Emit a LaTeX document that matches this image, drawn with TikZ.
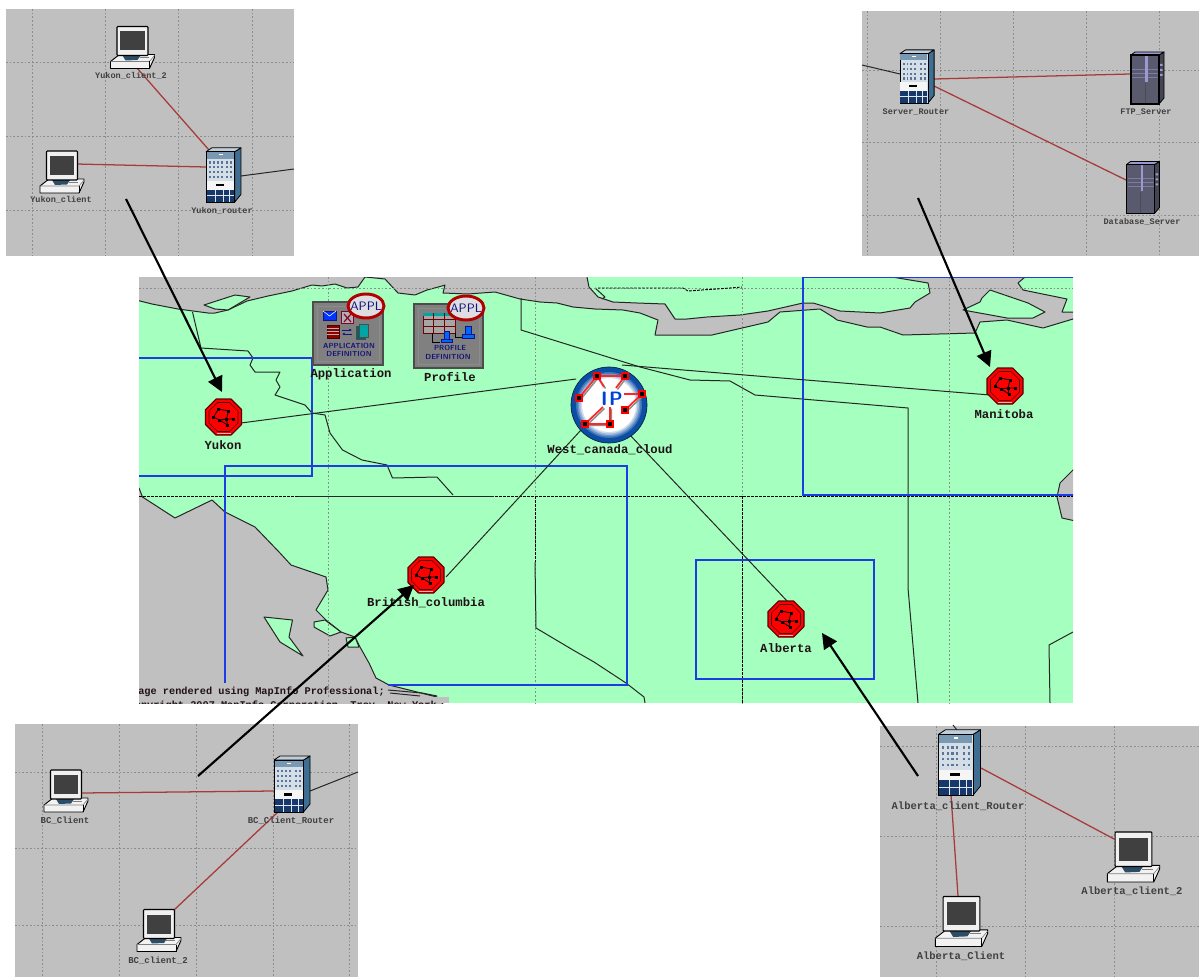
\documentclass[tikz,border=0pt]{standalone}
\usepackage{fontspec}
\setmainfont{Liberation Sans}
\setmonofont{Liberation Mono}
\usetikzlibrary{arrows.meta}
\definecolor{mapgreen}{HTML}{A5FFBE}
\definecolor{mapgray}{HTML}{C0C0C0}
\definecolor{griddot}{HTML}{8C8C8C}
\definecolor{linkred}{HTML}{A83A3A}
\definecolor{boxblue}{HTML}{1E3CE6}
\definecolor{navy}{HTML}{14147A}
\definecolor{appred}{HTML}{B00000}
\definecolor{cloudblue}{HTML}{0B4FA5}
\definecolor{rackblue}{HTML}{16386A}
\definecolor{rackside}{HTML}{3F6E92}
\definecolor{rackfront}{HTML}{D4DEE6}
\definecolor{srv}{HTML}{5A5A6E}
\definecolor{srvlight}{HTML}{9A9AD0}
\definecolor{labelink}{HTML}{201018}
\tikzset{
  box/.style 2 args={minimum width=#1*0.75pt,minimum height=#2*0.75pt,inner sep=0pt,outer sep=0pt},
  panelbg/.style={fill=mapgray,draw=none},
  griddots/.style={draw=griddot,line width=0.5pt,dash pattern=on 1.3pt off 1.5pt},
  redlink/.style={draw=linkred,line width=0.95pt},
  blacklink/.style={draw=black!85,line width=0.75pt},
  wanlink/.style={draw=black!85,line width=0.75pt},
  callout/.style={draw=black,line width=1.6pt,-{Triangle[length=11.5pt,width=11.5pt]}},
  coast/.style={draw=black!85,line width=0.75pt,line join=round},
  region/.style={draw=boxblue,line width=0.85pt},
  plabelA/.style={inner sep=0pt,font=\ttfamily\bfseries\fontsize{6.4}{7}\selectfont,text=black!75},
  plabelB/.style={inner sep=0pt,font=\ttfamily\bfseries\fontsize{6.75}{7}\selectfont,text=black!75},
  plabelC/.style={inner sep=0pt,font=\ttfamily\bfseries\fontsize{7.9}{8}\selectfont,text=black!75},
  mlabel/.style={inner sep=0pt,font=\ttfamily\bfseries\fontsize{9.2}{10}\selectfont,text=labelink},
  foot/.style={inner sep=0pt,anchor=base east,font=\ttfamily\bfseries\fontsize{7.7}{8}\selectfont,text=labelink},
  applt/.style={inner sep=0pt,font=\sffamily\fontsize{9.2}{10}\selectfont,text=navy},
  deft/.style={inner sep=0pt,font=\sffamily\bfseries\fontsize{5.5}{6}\selectfont,text=navy},
  pcicon/.pic={
    \filldraw[fill=white!90!gray,draw=black,line width=0.7pt,line join=round] (-13,7) -- (22,7) -- (22,10) -- (17,21) -- (-22,21) -- (-22,14) -- cycle;
    \draw[draw=gray,line width=0.5pt] (-22,14) -- (17,14) -- (22,8);
    \draw[draw=black,line width=0.6pt] (17,14) -- (17,21);
    \fill[fill=rackside!70!black] (-10,8) -- (8,8) -- (5,12.5) -- (-7,13) -- cycle;
    \draw[draw=gray,line width=0.4pt] (7,10) -- (16,10);
    \filldraw[fill=white!88!gray,draw=black,line width=0.8pt,rounded corners=0.6pt] (-15.5,-21) rectangle (15.5,8);
    \fill[fill=black!75] (-12.5,-16) rectangle (12,3);
  },
  routericon/.pic={
    \filldraw[fill=rackside,draw=black,line width=0.6pt,line join=round] (11.5,-24) -- (18,-28) -- (18,20) -- (11.5,28) -- cycle;
    \filldraw[fill=rackfront!85!rackside,draw=black,line width=0.6pt,line join=round] (-18,-24) -- (-12,-28) -- (18,-28) -- (11.5,-24) -- cycle;
    \filldraw[fill=rackfront,draw=black,line width=0.6pt] (-18,-24) rectangle (11.5,28);
    \fill[fill=rackside!70] (-17.5,-23.5) rectangle (11,-17);
    \fill[fill=white] (-5,-21.5) rectangle (-1,-20.5);
    \foreach \cx in {-15,-11,-7,-3,3,7} \foreach \cy in {-14,-9,-4,1}
      \fill[fill=rackblue!70] (\cx,\cy) rectangle +(2,2.2);
    \fill[fill=white!92!gray] (-17.5,6) rectangle (11,15);
    \fill[fill=black] (-8,9) rectangle (0,11.5);
    \fill[fill=rackblue] (-17.5,15) rectangle (11,27.5);
    \draw[draw=rackfront!70,line width=0.35pt] (-17.5,21) -- (11,21) (-9,15) -- (-9,27.5) (-0.5,15) -- (-0.5,27.5) (6,15) -- (6,27.5);
  },
  servericon/.pic={
    \filldraw[fill=srv!75!black,draw=black,line width=0.6pt,line join=round] (12,-23) -- (17,-26) -- (17,20) -- (12,26) -- cycle;
    \filldraw[fill=srvlight,draw=black,line width=0.6pt,line join=round] (-16,-23) -- (-12,-26) -- (17,-26) -- (12,-23) -- cycle;
    \filldraw[fill=srv,draw=black,line width=0.9pt] (-16,-23) rectangle (12,26);
    \fill[fill=srvlight] (-2,-22) rectangle (0.5,4);
    \draw[draw=srvlight!80!black,line width=0.4pt] (-15,-9) -- (-2,-9) (-15,-5) -- (-2,-5) (-15,-1) -- (-2,-1) (0.5,-9) -- (11,-9) (0.5,-5) -- (11,-5) (0.5,-1) -- (11,-1);
    \draw[draw=black!70,line width=0.35pt] (-2,5) -- (-2,25);
    \fill[fill=srvlight] (13,-14) rectangle (15.5,-12) (13,-9) rectangle (15.5,-7) (13,-4) rectangle (15.5,-2);
  },
  subneticon/.pic={
    \filldraw[fill=red,draw=black!65!red,line width=0.8pt,line join=round]
      (18,7.5) -- (7.5,18) -- (-7.5,18) -- (-18,7.5) -- (-18,-7.5) -- (-7.5,-18) -- (7.5,-18) -- (18,-7.5) -- cycle;
    \draw[draw=black!70!red,line width=0.45pt,line join=round]
      (14.5,6) -- (6,14.5) -- (-6,14.5) -- (-14.5,6) -- (-14.5,-6) -- (-6,-14.5) -- (6,-14.5) -- (14.5,-6) -- cycle;
    \draw[draw=white!70!red,line width=0.4pt] (-7,16) -- (7,16);
    \draw[draw=black,line width=0.6pt,line join=round] (-5,-8) -- (5,-6) -- (3,2) -- (4,8) -- (-4,3) -- (-10,0) -- cycle (-4,3) -- (3,2) -- (10,2);
    \foreach \px/\py in {-5/-8,5/-6,-10/0,-4/3,3/2,10/2,4/8}
      \fill[fill=black] (\px-1.5,\py-1.5) rectangle (\px+1.5,\py+1.5);
  },
  cloudicon/.pic={
    \fill[fill=cloudblue] (0,0) circle[radius=38];
    \draw[draw=black!60!cloudblue,line width=0.5pt] (0,0) circle[radius=38];
    \fill[fill=cloudblue!80!white] (0,0) circle[radius=33];
    \fill[fill=cloudblue!60!white] (0,0) circle[radius=31.5];
    \fill[fill=cloudblue!40!white] (0,0) circle[radius=30];
    \fill[fill=cloudblue!20!white] (0,0) circle[radius=28.5];
    \fill[fill=white] (0,0) circle[radius=27];
    \draw[draw=black!45,line width=1.1pt,shift={(1.5,1.5)}] (-12,-29) -- (-30,-7) (16,-29) -- (7,-17) (-12,-29) -- (-5,-18) (33,-11) -- (16,5) (-24,19) -- (-6,2) (1,19) -- (1,2) (-24,19) -- (1,19);
    \draw[draw=red!85!white,line width=1.3pt] (-12,-29) -- (16,-29) (-12,-29) -- (-30,-7) (16,-29) -- (7,-17) (-12,-29) -- (-5,-18) (33,-11) -- (15,-11) (33,-11) -- (16,5) (-24,19) -- (1,19) (-24,19) -- (-6,2) (1,19) -- (1,2);
    \foreach \px/\py in {-12/-29,16/-29,-30/-7,33/-11,16/5,-24/19,1/19} {
      \fill[fill=red] (\px-4,\py-4) rectangle (\px+4,\py+4);
      \fill[fill=black] (\px-1.8,\py-1.8) rectangle (\px+1.8,\py+1.8);
    }
  },
}
\newcommand{\joinlink}[5][redlink]{\draw[#1] ([shift={(#3)}]#2.center) -- ([shift={(#5)}]#4.center);}
\begin{document}
\begin{tikzpicture}[x=0.75pt,y=-0.75pt]
\path[use as bounding box] (0,0) rectangle (1199,977);

% ---------- central map ----------
\node[box={934}{426},fill=mapgreen] (mapbg) at (606,490) {};
\begin{scope}
\clip (139,277) rectangle (1073,703);
\filldraw[fill=mapgray,coast]
 (139,270) -- (587,270) -- (587,277) -- (589,287) -- (598,297) -- (613,302) -- (637,303) -- (665,304) -- (675,319) -- (687,319) -- (707,317) -- (740,315) -- (768,311) -- (803,303) -- (813,303) -- (840,311) -- (880,313) -- (910,308) -- (915,302) -- (930,293) -- (928,283) -- (892,277) -- (1025,277) -- (1018,283) -- (1023,290) -- (1067,299) -- (1062,312) -- (1080,312) -- (1080,317) -- (1073,319) -- (1043,328) -- (1007,320) -- (980,322) -- (975,333) -- (903,335) -- (880,327) -- (867,327) -- (837,320) -- (833,317) -- (820,309) -- (780,312) -- (768,322) -- (712,335) -- (655,335) -- (658,320) -- (640,313) -- (623,310) -- (595,309) -- (573,307) -- (557,303) -- (540,302) -- (520,299) -- (495,292) -- (468,294) -- (443,293) -- (445,285) -- (442,286) -- (427,290) -- (415,295) -- (398,293) -- (385,279) -- (365,277) -- (358,287) -- (347,288) -- (335,284) -- (322,286) -- (312,285) -- (292,291) -- (268,296) -- (247,301) -- (228,310) -- (215,313) -- (208,313) -- (178,309) -- (152,304) -- (132,299) -- cycle;
\filldraw[fill=mapgreen,coast] (204,305) -- (235,295) -- (250,297) -- (228,310) -- (215,309) -- cycle;
\filldraw[fill=mapgreen,coast] (963,310) -- (980,302) -- (982,298) -- (990,290) -- (1028,303) -- (1045,312) -- (1033,318) -- (1007,318) -- cycle;
\draw[coast] (595,288) -- (605,297) -- (602,299);
% south-west sea
\filldraw[fill=mapgray,coast] (132,488) -- (139,488) -- (142.5,497) -- (175,518) -- (212,500) -- (225,512) -- (255,527) -- (280,553) -- (291,565) -- (326,577) -- (328,590) -- (316,610) -- (326,620) -- (341,632) -- (355,637) -- (360,647) -- (369,663) -- (376,678) -- (389,685) -- (437,697) -- (448,710) -- (132,710) -- cycle;
\filldraw[fill=mapgreen,coast] (264,617) -- (292.5,620) -- (289,637) -- (303,656) -- (280,642) -- cycle;
\filldraw[fill=mapgreen,coast] (314,622) -- (325,620) -- (341,632) -- (330,636) -- (314,627) -- cycle;
\filldraw[fill=mapgreen,coast] (346,638) -- (355,637) -- (359,647) -- (348,647) -- cycle;
% east sea
\filldraw[fill=mapgray,coast] (1080,464) -- (1073,470) -- (1060,483) -- (1057,497) -- (1062,518) -- (1080,522) -- cycle;
% grid
\foreach \gx in {328,535,742,949} \draw[griddots] (\gx,277) -- (\gx,703);
\draw[griddots] (139,288) -- (1073,288);
% borders
\draw[coast] (192.5,312) -- (201,348) -- (248,351) -- (253,358) -- (250,365) -- (255,372) -- (280,372) -- (276,380) -- (280,387) -- (275,395) -- (305,405) -- (312,413) -- (325,415) -- (330,433) -- (342.5,450) -- (362,460) -- (387,465) -- (392.5,478) -- (437,477) -- (453,495);
\draw[coast] (521,298) -- (521,330) -- (640,367) -- (690,380) -- (730,381) -- (755,395) -- (908,408) -- (908,588) -- (918,703);
\draw[coast] (1073,632) -- (1049,645) -- (1050,703);
\draw[coast] (535,562) -- (536,628) -- (573,650) -- (594,662) -- (626,683) -- (644,697) -- (645,703);
\draw[draw=black,line width=0.7pt,dash pattern=on 2pt off 1pt] (139,496) -- (1073,496);
\draw[coast] (298,496) -- (494,496);
\draw[draw=black,line width=0.7pt,dash pattern=on 2pt off 1pt] (535,496) -- (535,562);
\draw[draw=black,line width=0.7pt,dash pattern=on 2pt off 1pt] (742,496) -- (742,703);
\draw[draw=black,line width=0.7pt,dash pattern=on 2pt off 1pt] (598,288) -- (683,288) -- (688,291) -- (730,288) -- (742,287);
% region boxes
\draw[region] (130,358) -- (312,358) -- (312,476) -- (130,476);
\draw[region] (225,683) -- (225,466) -- (627,466) -- (627,685) -- (388,685);
\draw[region] (1080,277) -- (803,277) -- (803,495) -- (1080,495);
\draw[region] (696,560) rectangle (874,679);
% footer
\fill[fill=mapgray] (139,697) rectangle (449,703);
\draw[coast] (388,690) -- (422,693) -- (437,696);
\draw[coast] (390,693) -- (420,696);
\node[foot] (footone) at (385,694) {Image rendered using MapInfo Professional;};
\node[foot] (foottwo) at (437,708) {Copyright 2007 MapInfo Corporation, Troy, New York};
\end{scope}

% ---------- panels ----------
\node[box={288}{247},panelbg] (yukonpanel) at (150,132.5) {};
\node[box={337}{245},panelbg] (serverpanel) at (1030.5,133.5) {};
\node[box={343}{253},panelbg] (bcpanel) at (186.5,850.5) {};
\node[box={319}{251},panelbg] (albertapanel) at (1039.5,851.5) {};

\foreach \gx in {32,105,178,252} \draw[griddots] (\gx,9) -- (\gx,256);
\foreach \gy in {62,136,210} \draw[griddots] (6,\gy) -- (294,\gy);
\foreach \gx in {867,940,1013,1086,1159} \draw[griddots] (\gx,11) -- (\gx,256);
\foreach \gy in {70,142,215} \draw[griddots] (862,\gy) -- (1199,\gy);
\foreach \gx in {42,119,196,273,349} \draw[griddots] (\gx,724) -- (\gx,977);
\foreach \gy in {772,848,925} \draw[griddots] (15,\gy) -- (358,\gy);
\foreach \gx in {936,1025,1114} \draw[griddots] (\gx,726) -- (\gx,977);
\foreach \gy in {746,836,926} \draw[griddots] (880,\gy) -- (1199,\gy);

% ---------- node anchors (art is drawn after the links) ----------
\node[box={42}{42}] (yukonclienttwo) at (132.5,47.5) {};
\node[box={42}{42}] (yukonclient) at (62,172) {};
\node[box={36}{56}] (yukonrouter) at (223.5,175) {};
\node[box={36}{56}] (serverrouter) at (917,76.5) {};
\node[box={34}{52}] (ftpserver) at (1147,78) {};
\node[box={34}{52}] (dbserver) at (1142.5,187.5) {};
\node[box={44}{42}] (bcclient) at (66,791) {};
\node[box={44}{42}] (bcclienttwo) at (159,930.5) {};
\node[box={36}{56}] (bcrouter) at (292,784) {};
\node[box={43}{65}] (albertarouter) at (959.5,762.5) {};
\node[box={51}{50}] (albertaclienttwo) at (1133.5,857) {};
\node[box={51}{50}] (albertaclient) at (961.5,921.5) {};
\node[box={36}{36}] (yukon) at (223.5,417) {};
\node[box={36}{36}] (britishcolumbia) at (426,575) {};
\node[box={36}{36}] (alberta) at (786,619) {};
\node[box={36}{36}] (manitoba) at (1005,386) {};
\node[box={76}{76}] (cloud) at (609,405) {};

% ---------- links ----------
\joinlink{yukonclienttwo}{4.5,20.5}{yukonrouter}{-14.5,-25}
\joinlink{yukonclient}{14,-8}{yukonrouter}{-17.5,-8}
\joinlink[blacklink]{yukonrouter}{17.5,1}{yukonpanel}{144,36.5}
\joinlink{serverrouter}{17,2.5}{ftpserver}{-17,-4}
\joinlink{serverrouter}{17,9.5}{dbserver}{-16.5,-7.5}
\joinlink[blacklink]{serverpanel}{-168.5,-68.5}{serverrouter}{-17,-2.5}
\joinlink{bcclient}{15,2}{bcrouter}{-18,7}
\joinlink{bcclienttwo}{15,-20.5}{bcrouter}{-14,28}
\joinlink[blacklink]{bcrouter}{18,7}{bcpanel}{171.5,-78.5}
\joinlink{albertarouter}{21.5,5.5}{albertaclienttwo}{-19.5,-18}
\joinlink{albertarouter}{-8.5,32.5}{albertaclient}{-3.5,-25.5}
\joinlink[blacklink]{albertapanel}{-86.5,-126.5}{albertarouter}{-2.5,-32.5}
\joinlink[wanlink]{yukon}{17.5,6}{cloud}{-33,-26}
\joinlink[wanlink]{cloud}{-28,25}{britishcolumbia}{20,2}
\joinlink[wanlink]{cloud}{20,29}{alberta}{2,-17}
\joinlink[wanlink]{cloud}{13,-40}{manitoba}{-15,9}

% ---------- icons ----------
\pic at (132.5,47.5) {pcicon};
\pic at (62,172) {pcicon};
\pic[scale=0.97] at (223.5,175) {routericon};
\pic[scale=0.95] at (917,76.5) {routericon};
\pic at (1147,78) {servericon};
\pic at (1142.5,187.5) {servericon};
\pic at (66,791) {pcicon};
\pic at (159,930.5) {pcicon};
\pic at (292,784) {routericon};
\pic[scale=1.17] at (959.5,762.5) {routericon};
\pic[scale=1.19] at (1133.5,857) {pcicon};
\pic[scale=1.19] at (961.5,921.5) {pcicon};
\pic at (223.5,417) {subneticon};
\pic at (426,575) {subneticon};
\pic at (786,619) {subneticon};
\pic at (1005,386) {subneticon};
\pic at (609,405) {cloudicon};
\node[inner sep=0pt,font=\sffamily\bfseries\fontsize{14.5}{15}\selectfont,text=blue!70!cyan!85!black] (iptext) at (612,398.5) {I\kern1.2pt P};

% ---------- application definition ----------
\node[box={70}{63},fill=gray,draw=black!70,line width=0.9pt] (appbox) at (348,333.5) {};
\draw[draw=black!45,line width=0.5pt] (317,306) rectangle (379,361);
\filldraw[fill=blue!80!cyan,draw=navy,line width=0.5pt] (323,311) rectangle (336,320);
\draw[draw=white,line width=0.4pt] (323,311) -- (329.5,316) -- (336,311);
\filldraw[fill=gray!60!white,draw=purple!70!black,line width=0.7pt] (341,311) rectangle (353,323);
\draw[draw=purple!70!black,line width=0.9pt] (344,314) -- (351,322) (351,314) -- (344,322);
\filldraw[fill=red!55!black,draw=red!30!black,line width=0.4pt] (327,325) rectangle (339,338);
\draw[draw=gray!60!white,line width=0.4pt] (327,328) -- (339,328) (327,331) -- (339,331) (327,334.5) -- (339,334.5);
\draw[draw=navy,line width=0.7pt,-{Latex[length=2pt,width=2pt]}] (342,330) -- (352,330);
\draw[draw=navy,line width=0.7pt,-{Latex[length=2pt,width=2pt]}] (352,334) -- (342,334);
\filldraw[fill=teal!80!black,draw=black!70,line width=0.5pt] (356,326) rectangle (365,339);
\filldraw[fill=teal!70!cyan,draw=black!70,line width=0.5pt] (359,324) rectangle (368,337);
\node[deft] (apptitleone) at (349,345.5) {APPLICATION};
\node[deft] (apptitletwo) at (349,354) {DEFINITION};
\filldraw[fill=blue!8!gray!25!white,draw=appred,line width=2.2pt] (366,306) ellipse [x radius=18,y radius=12];
\node[applt] (appltagone) at (366,306) {APPL};
\node[mlabel] (applabel) at (351,374) {Application};

% ---------- profile definition ----------
\node[box={69}{64},fill=gray,draw=black!70,line width=0.9pt] (profbox) at (448.5,336) {};
\draw[draw=black!45,line width=0.5pt] (418,308) rectangle (479,364);
\filldraw[fill=gray!70!white,draw=red!45!black,line width=0.6pt] (423,313) rectangle (455,333);
\fill[fill=teal!70!cyan] (423,313) rectangle (455,316);
\draw[draw=red!45!black,line width=0.6pt] (423,319) -- (455,319) (423,326) -- (455,326) (433,313) -- (433,333) (444,313) -- (444,333);
\draw[draw=black,line width=0.6pt] (432,333) -- (432,342) -- (440,342);
\draw[draw=black,line width=0.6pt] (455,333) -- (455,337) -- (462,337);
\filldraw[fill=blue!60!cyan,draw=navy,line width=0.4pt] (441,339) rectangle (452,342);
\filldraw[fill=blue!60!cyan,draw=navy,line width=0.4pt] (444,331) rectangle (449,339);
\filldraw[fill=blue!60!cyan,draw=navy,line width=0.4pt] (462,334) rectangle (474,338);
\filldraw[fill=blue!60!cyan,draw=navy,line width=0.4pt] (465,326) rectangle (471,334);
\node[deft] (proftitleone) at (450,348) {PROFILE};
\node[deft] (proftitletwo) at (448,356.5) {DEFINITION};
\filldraw[fill=blue!8!gray!25!white,draw=appred,line width=2.2pt] (466,308) ellipse [x radius=18,y radius=12];
\node[applt] (appltagtwo) at (466,308) {APPL};
\node[mlabel] (proflabel) at (450,377) {Profile};

% ---------- labels ----------
\node[plabelA] (la) at (131,76) {Yukon\_client\_2};
\node[plabelA] (lb) at (61,200) {Yukon\_client};
\node[plabelA] (lc) at (222,211) {Yukon\_router};
\node[plabelA] (ld) at (916,112) {Server\_Router};
\node[plabelA] (le) at (1146,112) {FTP\_Server};
\node[plabelA] (lf) at (1142,222) {Database\_Server};
\node[plabelB] (lg) at (65,821) {BC\_Client};
\node[plabelB] (lh) at (291,821) {BC\_Client\_Router};
\node[plabelB] (li) at (158,961) {BC\_client\_2};
\node[plabelC] (lj) at (958,806) {Alberta\_client\_Router};
\node[plabelC] (lk) at (1132,891) {Alberta\_client\_2};
\node[plabelC] (ll) at (961,956) {Alberta\_Client};
\node[mlabel] (lm) at (223,445) {Yukon};
\node[mlabel] (ln) at (426,603) {British\_columbia};
\node[mlabel] (lo) at (786,648) {Alberta};
\node[mlabel] (lp) at (1004,414) {Manitoba};
\node[mlabel] (lq) at (610,450) {West\_canada\_cloud};

% ---------- callout arrows ----------
\joinlink[callout]{yukonpanel}{-24,66.5}{yukon}{-1.5,-25}
\joinlink[callout]{serverpanel}{-112.5,64.5}{manitoba}{-15,-19}
\joinlink[callout]{bcpanel}{11.5,-74.5}{britishcolumbia}{-12,10}
\joinlink[callout]{albertapanel}{-121.5,-75.5}{alberta}{36,14}
\end{tikzpicture}
\end{document}
